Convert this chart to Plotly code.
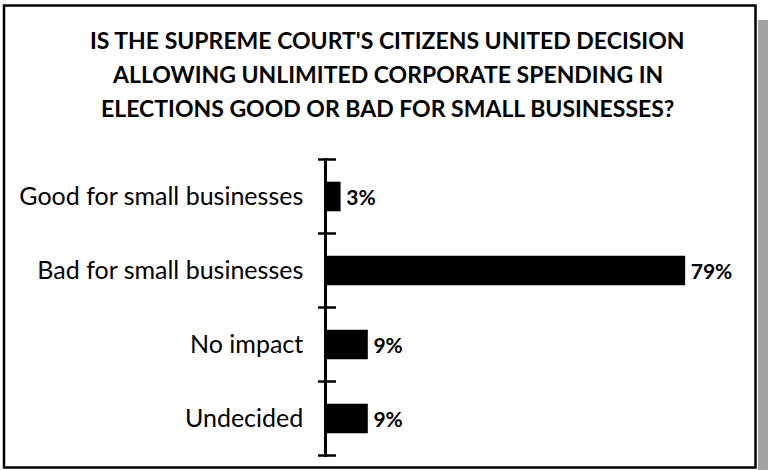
import plotly.graph_objects as go

# Survey responses
categories = ["Good for small businesses", "Bad for small businesses", "No impact", "Undecided"]
values = [3, 79, 9, 9]
title_lines = [
    "IS THE SUPREME COURT'S CITIZENS UNITED DECISION",
    "ALLOWING UNLIMITED CORPORATE SPENDING IN",
    "ELECTIONS GOOD OR BAD FOR SMALL BUSINESSES?",
]

W, H = 768, 470
L, R, T, B = 327, 33, 158, 13
PW = W - L - R
PH = H - T - B
FONT = "Lato, 'Open Sans', sans-serif"

positions = list(range(len(categories)))

fig = go.Figure(
    go.Bar(
        x=values,
        y=positions,
        orientation="h",
        width=0.4,
        marker=dict(color="black", line=dict(width=0)),
        text=[f"\u2009<b>{v}%</b>" for v in values],
        textposition="outside",
        textfont=dict(family=FONT, size=21, color="black"),
        cliponaxis=False,
        hoverinfo="skip",
    )
)


def px_x(p):
    return (p - L) / PW


def px_y(p):
    return 1 - (p - T) / PH


shapes = []
# tick marks crossing the category axis at category boundaries
for b in [i - 0.5 for i in range(len(categories) + 1)]:
    shapes.append(dict(
        type="line", xref="paper", yref="y",
        xsizemode="pixel", xanchor=0, x0=-9, x1=9,
        y0=b, y1=b, line=dict(color="black", width=2.5),
    ))

# drop shadow on the right of the frame
shapes.append(dict(
    type="rect", xref="paper", yref="paper", layer="below",
    x0=px_x(758), x1=px_x(770), y0=px_y(20), y1=px_y(472),
    fillcolor="#a3a3a3", line=dict(width=0),
))
# frame
shapes.append(dict(
    type="rect", xref="paper", yref="paper",
    x0=px_x(4), x1=px_x(755.5), y0=px_y(5.5), y1=px_y(467.5),
    fillcolor="rgba(0,0,0,0)", line=dict(color="black", width=2.5),
))

# title, one annotation per line for wider line spacing
title_centers = [40, 74, 108]
annotations = [
    dict(
        text=f"<b>{t}</b>",
        xref="paper", yref="paper",
        x=px_x(387), y=px_y(cy),
        xanchor="center", yanchor="middle",
        showarrow=False,
        font=dict(family=FONT, size=23, color="black"),
    )
    for t, cy in zip(title_lines, title_centers)
]

fig.update_layout(
    width=W, height=H,
    margin=dict(l=L, r=R, t=T, b=B, pad=0),
    paper_bgcolor="white",
    plot_bgcolor="white",
    showlegend=False,
    bargap=0.6,
    font=dict(family=FONT, color="black"),
    shapes=shapes,
    annotations=annotations,
    xaxis=dict(
        range=[0, 90], visible=False, showgrid=False, zeroline=False,
    ),
    yaxis=dict(
        range=[len(categories) - 0.5 + 0.02, -0.52],
        tickvals=positions,
        ticktext=categories,
        ticks="",
        ticklabelstandoff=16,
        tickfont=dict(family=FONT, size=25, color="black"),
        showline=True, linecolor="black", linewidth=2.5,
        showgrid=False, zeroline=False,
    ),
)

fig.write_html("out.html")
